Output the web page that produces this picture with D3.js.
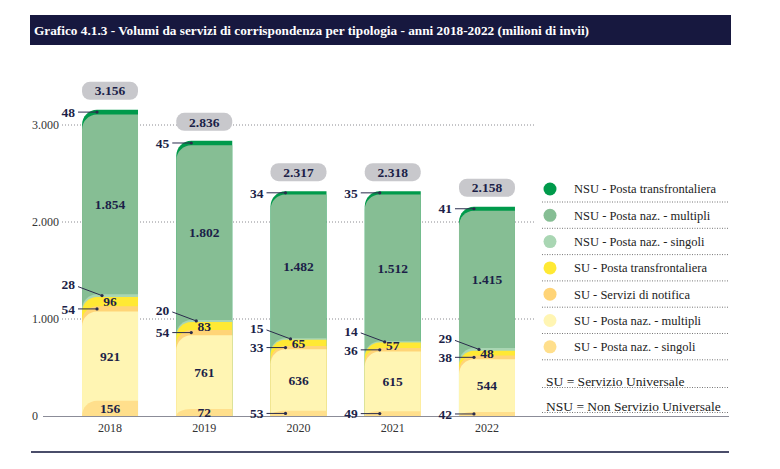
<!DOCTYPE html>
<html><head><meta charset="utf-8">
<script src="https://cdn.jsdelivr.net/npm/d3@7"></script>
<style>
html,body{margin:0;padding:0;background:#fff;}
svg{display:block;font-family:"Liberation Serif","Times New Roman",serif;}
</style></head>
<body><svg id="c" width="780" height="469"></svg>
<script>
// ---- data ----
const years = ["2018", "2019", "2020", "2021", "2022"];
const totals = [3156, 2836, 2317, 2318, 2158];
const suSingoli = [156, 72, 53, 49, 42];
const suMultipli = [921, 761, 636, 615, 544];
const suNotifica = [54, 54, 33, 36, 38];
const suTransfr = [96, 83, 65, 57, 48];
const nsuSingoli = [28, 20, 15, 14, 29];
const nsuMultipli = [1854, 1802, 1482, 1512, 1415];
const nsuTransfr = [48, 45, 34, 35, 41];
const yTicks = [0, 1000, 2000, 3000];
const titleText = "Grafico 4.1.3 - Volumi da servizi di corrispondenza per tipologia - anni 2018-2022 (milioni di invii)";

// series in stacking order (bottom -> top)
const series = [
  {key: "suSingoli", name: "SU - Posta naz. - singoli", values: suSingoli, color: "#ffdf8c", label: "auto"},
  {key: "suMultipli", name: "SU - Posta naz. - multipli", values: suMultipli, color: "#fff5b3", label: "inside"},
  {key: "suNotifica", name: "SU - Servizi di notifica", values: suNotifica, color: "#ffd477", label: "left"},
  {key: "suTransfr", name: "SU - Posta transfrontaliera", values: suTransfr, color: "#ffe934", label: "inside"},
  {key: "nsuSingoli", name: "NSU - Posta naz. - singoli", values: nsuSingoli, color: "#a9d6b3", label: "raised"},
  {key: "nsuMultipli", name: "NSU - Posta naz. - multipli", values: nsuMultipli, color: "#86be94", label: "inside"},
  {key: "nsuTransfr", name: "NSU - Posta transfrontaliera", values: nsuTransfr, color: "#009a4b", label: "left"}
];
const footnotes = ["SU = Servizio Universale", "NSU = Non Servizio Universale"];

// ---- setup ----
const svg = d3.select("#c");
const navy = "#1c1f48";
const loc = d3.formatLocale({decimal: ",", thousands: ".", grouping: [3], currency: ["", "€"]});
const fmt = loc.format(",d");

const table = years.map((y, i) => {
  const o = {year: y};
  series.forEach(s => o[s.key] = s.values[i]);
  return o;
});
const stacked = d3.stack().keys(series.map(s => s.key))(table);

const x = d3.scaleBand().domain(years).range([62.9, 534.1]).paddingInner(0.406).paddingOuter(0.203);
const y = d3.scaleLinear().domain([0, 3000]).range([416, 125]);

// title bar
svg.append("rect").attr("x", 30).attr("y", 15).attr("width", 701).attr("height", 30).attr("fill", "#17183f");
svg.append("text").attr("x", 34).attr("y", 35).attr("fill", "#fff")
  .attr("font-weight", "bold").attr("font-size", 13.5)
  .attr("textLength", 555).attr("lengthAdjust", "spacingAndGlyphs").text(titleText);

// gridlines
svg.append("g").selectAll("line").data(yTicks.filter(t => t > 0)).join("line")
  .attr("x1", 62).attr("x2", 534).attr("y1", d => y(d)).attr("y2", d => y(d))
  .attr("stroke", "#8a8a90").attr("stroke-width", 1).attr("stroke-dasharray", "1,2");

// y tick labels
svg.append("g").selectAll("text").data(yTicks).join("text")
  .attr("x", 32).attr("y", d => y(d)).attr("dy", "0.35em")
  .attr("font-size", 12).attr("fill", "#333").text(d => fmt(d));

// bars: each segment from its top down to zero, top-left corner rounded, drawn top series first
const k = 0.5523;
function segPath(x0, w, yt, yb) {
  const rx = Math.min(15, w), ry = Math.min(15, yb - yt);
  const p = d3.path();
  p.moveTo(x0, yb);
  p.lineTo(x0, yt + ry);
  p.bezierCurveTo(x0, yt + ry * (1 - k), x0 + rx * (1 - k), yt, x0 + rx, yt);
  p.lineTo(x0 + w, yt);
  p.lineTo(x0 + w, yb);
  p.closePath();
  return p.toString();
}
const gBars = svg.append("g");
for (let si = series.length - 1; si >= 0; si--) {
  gBars.append("g").selectAll("path").data(stacked[si]).join("path")
    .attr("d", d => segPath(x(d.data.year), x.bandwidth(), y(d[1]), y(0)))
    .attr("fill", series[si].color);
}

// baseline and bottom rule
svg.append("line").attr("x1", 43).attr("x2", 729).attr("y1", y(0) + 0.5).attr("y2", y(0) + 0.5)
  .attr("stroke", "#8b8c98").attr("stroke-width", 1.2);
svg.append("line").attr("x1", 31).attr("x2", 729).attr("y1", 452).attr("y2", 452)
  .attr("stroke", "#4a4d6a").attr("stroke-width", 2);

// x labels
svg.append("g").selectAll("text").data(years).join("text")
  .attr("x", d => x(d) + x.bandwidth() / 2).attr("y", 428).attr("dy", "0.35em")
  .attr("text-anchor", "middle").attr("font-size", 12).attr("fill", "#333").text(d => d);

// total boxes
const gTot = svg.append("g");
years.forEach((yr, i) => {
  const top = y(stacked[series.length - 1][i][1]);
  gTot.append("rect").attr("x", x(yr)).attr("y", top - 28).attr("width", x.bandwidth()).attr("height", 18)
    .attr("rx", 8).attr("fill", "#c8c8cc");
  gTot.append("text").attr("x", x(yr) + x.bandwidth() / 2).attr("y", top - 19).attr("dy", "0.35em")
    .attr("text-anchor", "middle").attr("font-weight", "bold").attr("font-size", 13.5).attr("fill", navy)
    .text(fmt(totals[i]));
});

// data labels
const gLab = svg.append("g").attr("font-weight", "bold").attr("font-size", 13.5).attr("fill", navy);
series.forEach((s, si) => {
  stacked[si].forEach((d, i) => {
    const v = s.values[i];
    const bx = x(d.data.year), bw = x.bandwidth();
    const cy = (y(d[0]) + y(d[1])) / 2;
    let mode = s.label;
    if (mode === "auto") mode = v >= 70 ? "inside" : "left";
    if (mode === "inside") {
      gLab.append("text").attr("x", bx + bw / 2).attr("y", cy).attr("dy", "0.35em")
        .attr("text-anchor", "middle").text(fmt(v));
    } else {
      const raised = mode === "raised";
      const dotX = bx + (raised ? 20 : 15);
      const ly = raised ? cy - 11 : cy;
      gLab.append("text").attr("x", bx - 7).attr("y", ly).attr("dy", "0.35em")
        .attr("text-anchor", "end").text(fmt(v));
      gLab.append("line").attr("x1", bx - 4).attr("y1", raised ? ly + 2 : ly)
        .attr("x2", dotX).attr("y2", cy).attr("stroke", "#2a2c4c").attr("stroke-width", 1);
      gLab.append("circle").attr("cx", dotX).attr("cy", cy).attr("r", 1.6).attr("fill", "#2a2c4c");
    }
  });
});

// legend
const legendItems = series.slice().reverse();
const gLeg = svg.append("g");
legendItems.forEach((s, i) => {
  const cy = 189 + i * 26.3;
  gLeg.append("circle").attr("cx", 550).attr("cy", cy).attr("r", 6.5).attr("fill", s.color);
  gLeg.append("text").attr("x", 574).attr("y", cy).attr("dy", "0.35em")
    .attr("font-size", 12.5).attr("fill", "#222").text(s.name);
  gLeg.append("line").attr("x1", 542).attr("x2", 728).attr("y1", cy + 13).attr("y2", cy + 13)
    .attr("stroke", "#777").attr("stroke-dasharray", "1,1.5");
});
footnotes.forEach((t, i) => {
  const by = 386 + i * 25;
  gLeg.append("text").attr("x", 546).attr("y", by).attr("font-size", 13.5).attr("fill", "#222").text(t);
  gLeg.append("line").attr("x1", 542).attr("x2", 728).attr("y1", by + 1.5).attr("y2", by + 1.5)
    .attr("stroke", "#777").attr("stroke-dasharray", "1,1.5");
});
</script>
</body></html>
